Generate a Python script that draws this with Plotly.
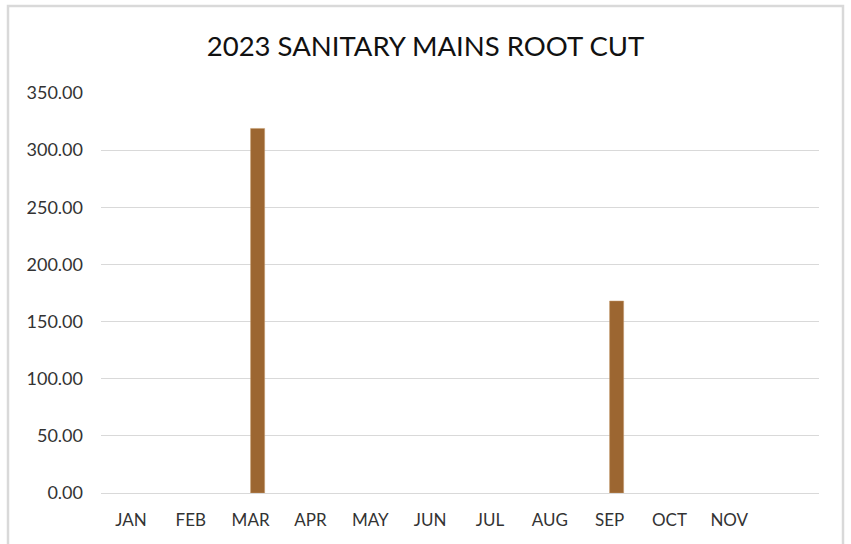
import plotly.graph_objects as go

months = ["JAN", "FEB", "MAR", "APR", "MAY", "JUN", "JUL", "AUG", "SEP", "OCT", "NOV", "DEC"]
tick_labels = ["JAN", "FEB", "MAR", "APR", "MAY", "JUN", "JUL", "AUG", "SEP", "OCT", "NOV", ""]
placeholder = [None] * 12
root_cut = [None, None, 319, None, None, None, None, None, 168, None, None, None]
y_ticks = [0, 50, 100, 150, 200, 250, 300, 350]

W, H = 851, 544
L, R, T, B = 101, 32, 93, 51
pw, ph = W - L - R, H - T - B

fig = go.Figure()
fig.add_trace(go.Bar(x=months, y=placeholder, name="", marker_color="rgba(0,0,0,0)", showlegend=False))
fig.add_trace(go.Bar(x=months, y=root_cut, name="Root Cut",
                     marker=dict(color="#9C6631", line=dict(color="#C49A6C", width=0.5)),
                     showlegend=False))

fig.update_layout(
    width=W, height=H,
    margin=dict(l=L, r=R, t=T, b=B),
    paper_bgcolor="white", plot_bgcolor="white",
    barmode="group", bargap=0.53, bargroupgap=0,
    font=dict(family="Lato, 'Open Sans', sans-serif", color="#333333"),
    title=dict(text="2023 SANITARY MAINS ROOT CUT", x=0.5, xref="container", xanchor="center",
               y=1 - 46 / H, yref="container", yanchor="middle",
               font=dict(size=27.5, color="#111111", family="Lato, 'Open Sans', sans-serif")),
    xaxis=dict(tickmode="array", tickvals=months, ticktext=tick_labels,
               showgrid=False, showline=False, ticks="", tickfont=dict(size=17, color="#333333"),
               ticklabelstandoff=15, zeroline=False),
    yaxis=dict(range=[0, 350], tickvals=y_ticks, tickformat=".2f",
               showgrid=True, gridcolor="#D9D9D9", gridwidth=1,
               zeroline=True, zerolinecolor="#D9D9D9", zerolinewidth=1,
               showline=False, ticks="", tickfont=dict(size=18, color="#333333"),
               ticklabelstandoff=17),
)

def py(pix):
    return 1 - (pix - T) / ph

fig.add_shape(type="rect", xref="paper", yref="paper",
              x0=(8 - L) / pw, x1=(843 - L) / pw,
              y0=py(570), y1=py(6),
              line=dict(color="#D9D9D9", width=2.5), fillcolor="rgba(0,0,0,0)", layer="below")

fig.write_html("out.html")
